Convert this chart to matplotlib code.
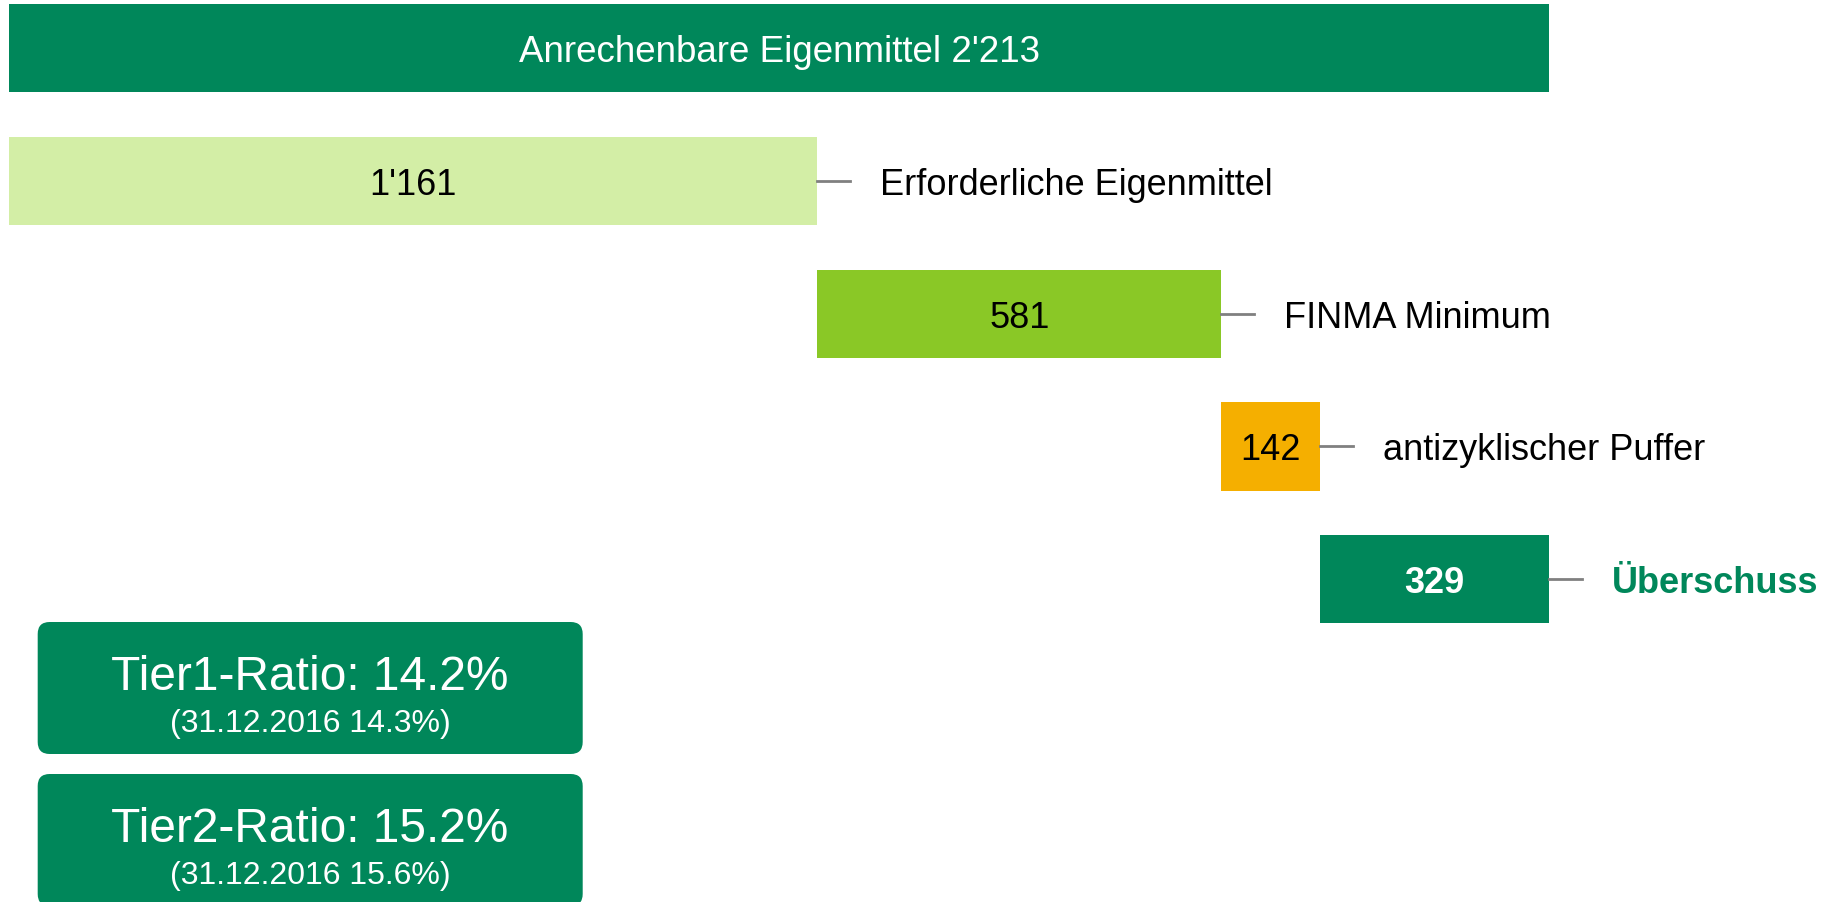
import matplotlib
matplotlib.use("Agg")
import matplotlib.pyplot as plt
from matplotlib.patches import FancyBboxPatch

plt.rcParams['font.family'] = ['Liberation Sans', 'DejaVu Sans']

# ---- data ----
total_label = "Anrechenbare Eigenmittel"
total_value = 2213
total_value_label = "2'213"
categories = ["Erforderliche Eigenmittel", "FINMA Minimum", "antizyklischer Puffer", "Überschuss"]
values = [1161, 581, 142, 329]
value_labels = ["1'161", "581", "142", "329"]
ratio_titles = ["Tier1-Ratio: 14.2%", "Tier2-Ratio: 15.2%"]
ratio_prev = ["(31.12.2016 14.3%)", "(31.12.2016 15.6%)"]

DARK = "#00875A"
colors = ["#D3EEA6", "#8AC826", "#F5AF00", DARK]
text_colors = ["black", "black", "black", "white"]
label_colors = ["black", "black", "black", DARK]
weights = ["normal", "normal", "normal", "bold"]

W, H = 1847, 902
fig = plt.figure(figsize=(W / 100, H / 100), dpi=100)
ax = fig.add_axes([0, 0, 1, 1])
pxu = 1539.6 / total_value  # pixels per unit
x0 = -9.4 / pxu
ax.set_xlim(x0, x0 + W / pxu)
rowpx = 132.7
ax.set_ylim((H - 48.3) / rowpx, -48.3 / rowpx)
ax.axis("off")

FS = 26
cap_px = 0.716 * FS * 100 / 72
dy = (cap_px / 2 + 1) / rowpx  # baseline offset (rows)

bh = 0.666
# total bar
ax.barh(0, total_value, left=0, height=bh, color=DARK, linewidth=0)
ax.text(total_value / 2, dy, f"{total_label} {total_value_label}", ha="center",
        va="baseline", color="white", fontsize=26.5)

# waterfall bars
left = 0
for i, (cat, v) in enumerate(zip(categories, values)):
    y = i + 1
    l = left
    ax.barh(y, v, left=l, height=bh, color=colors[i], linewidth=0)
    ax.text(l + v / 2, y + dy, value_labels[i], ha="center", va="baseline",
            color=text_colors[i], fontsize=FS, fontweight=weights[i])
    end = l + v
    ax.plot([end, end + 33 / pxu], [y, y], color="#808080", lw=2)
    ax.text(end + 63 / pxu, y + dy, cat, ha="left", va="baseline",
            color=label_colors[i], fontsize=FS, fontweight=weights[i])
    left = end

# ratio boxes in pixel coordinates
ax2 = fig.add_axes([0, 0, 1, 1])
ax2.set_xlim(0, W)
ax2.set_ylim(H, 0)
ax2.axis("off")
box_tops = [622, 774]
for j, (t, p) in enumerate(zip(ratio_titles, ratio_prev)):
    top = box_tops[j]
    ax2.add_patch(FancyBboxPatch((37.7 + 12, top + 12), 545 - 24, 132 - 24,
                                 boxstyle="round,pad=12", facecolor=DARK,
                                 edgecolor="none"))
    ax2.text(310, top + 67.5, t, ha="center", va="baseline", color="white", fontsize=34.5)
    ax2.text(310, top + 110, p, ha="center", va="baseline", color="white", fontsize=23)

fig.savefig("out.png", dpi=100)
